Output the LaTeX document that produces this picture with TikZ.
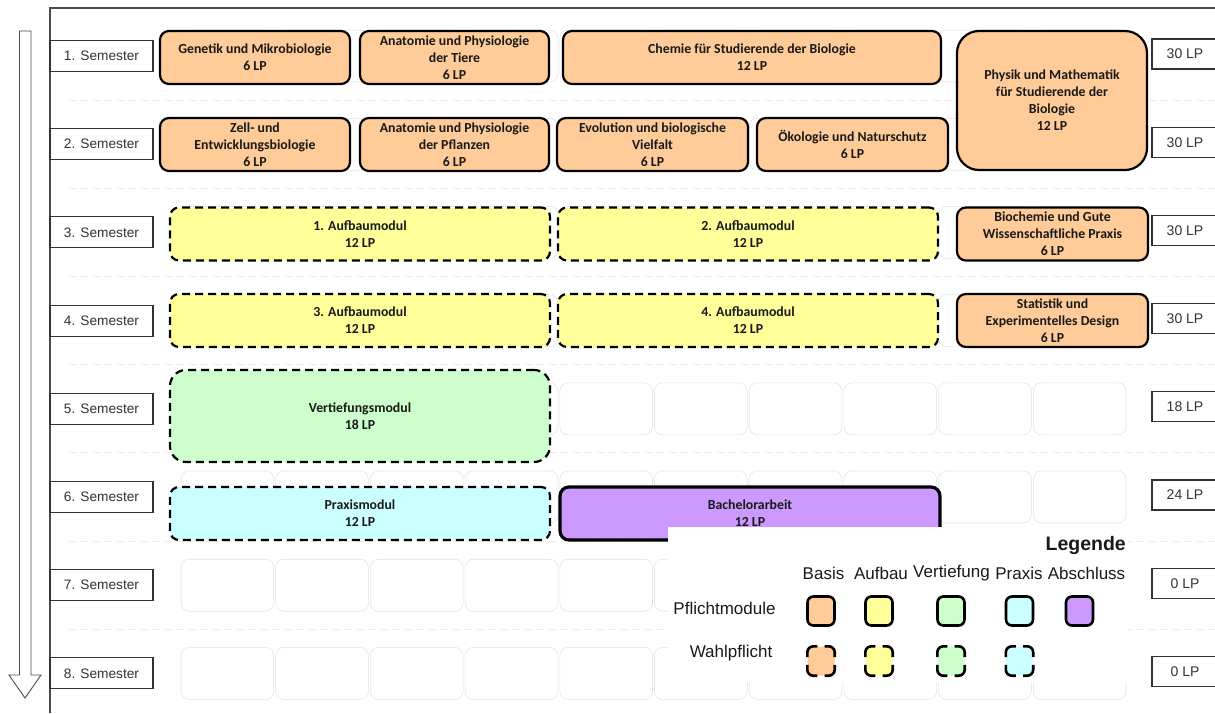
\documentclass[tikz,border=0pt]{standalone}
\usepackage{fontspec}
\usetikzlibrary{calc}
\setmainfont{Liberation Sans}
\newfontfamily\modfont{Carlito}
\definecolor{basis}{HTML}{FFCC99}
\definecolor{aufbau}{HTML}{FFFF99}
\definecolor{vertief}{HTML}{CCFFCC}
\definecolor{praxis}{HTML}{CCFFFF}
\definecolor{abschl}{HTML}{CC99FF}
\definecolor{framecol}{HTML}{4A4A4A}
\definecolor{sepcol}{HTML}{ECECDC}
\definecolor{cellcol}{HTML}{E4E4E4}
\definecolor{labtext}{HTML}{333333}
\tikzset{
  modbox/.style={draw=black, line width=2.2pt, rounded corners=9pt, inner sep=0pt, align=center,
    font=\modfont\bfseries\fontsize{13.8}{17}\selectfont, text=black!90},
  wahl/.style={modbox, dash pattern=on 8pt off 5pt},
  pfl/.style={modbox},
  sembox/.style={draw=labtext, line width=1.1pt, fill=white, inner sep=0pt, minimum width=103pt, minimum height=31pt,
    font=\fontsize{13.7}{15}\selectfont, text=labtext},
  lpbox/.style={draw=labtext, line width=1.1pt, fill=white, inner sep=0pt, minimum width=66pt, minimum height=30pt,
    font=\fontsize{14}{15}\selectfont, text=labtext},
  legtext/.style={font=\fontsize{17}{18}\selectfont, text=black!90, inner sep=0pt},
  legsq/.style={draw=black, line width=2.6pt, rounded corners=6pt, minimum width=27pt, minimum height=29pt, inner sep=0pt},
  legsqd/.style={rounded corners=6pt, minimum width=27pt, minimum height=29pt, inner sep=0pt},
  legcorner/.style={draw=black, line width=2.6pt, rounded corners=6pt},
}
\newcommand\wahlcorners[1]{%
  \draw[legcorner] ($(#1.north west)!0.37!(#1.south west)$) |- ($(#1.north west)!0.37!(#1.north east)$);
  \draw[legcorner] ($(#1.north east)!0.37!(#1.north west)$) -| ($(#1.north east)!0.37!(#1.south east)$);
  \draw[legcorner] ($(#1.south east)!0.37!(#1.north east)$) |- ($(#1.south east)!0.37!(#1.south west)$);
  \draw[legcorner] ($(#1.south west)!0.37!(#1.south east)$) -| ($(#1.south west)!0.37!(#1.north west)$);
}
\begin{document}
\begin{tikzpicture}[x=1pt,y=-1pt]
\useasboundingbox (0,0) rectangle (1215,713);
\clip (0,0) rectangle (1215,713);
% background cells
\foreach \r in {1,...,8}{
  \foreach \c in {0,...,9}{
    \draw[cellcol, line width=0.6pt, rounded corners=8pt]
      ({180+94.7*\c+1},{56+88.2*(\r-1)-26}) rectangle ({180+94.7*(\c+1)-1},{56+88.2*(\r-1)+26});
  }
}
% separators
\foreach \r in {1,...,7}{
  \draw[sepcol, line width=1pt, dash pattern=on 7pt off 5pt] (69,{56+88.2*(\r-1)+44.1}) -- (1215,{56+88.2*(\r-1)+44.1});
}
% frame
\draw[framecol, line width=1.3pt] (50,713) -- (50,8) -- (1216,8);
% arrow
\draw[framecol, line width=0.9pt, fill=white] (19.5,31) -- (31,31) -- (31,675) -- (41,675) -- (25,698) -- (9,675) -- (19.5,675) -- cycle;
% semester labels and LP
\foreach \r/\lp in {1/30,2/30,3/30,4/30,5/18,6/24,7/0,8/0}{
  \node[sembox] (sem\r) at (101.5,{56+88.2*(\r-1)}) {\r. Semester};
  \node[lpbox] (lp\r) at (1185,{56+88.2*(\r-1)-2}) {\lp\ LP};
}
% modules
\node[pfl, fill=basis, minimum width=190pt, minimum height=53pt] (gen) at (255,57.5) {Genetik und Mikrobiologie\\6 LP};
\node[pfl, fill=basis, minimum width=189pt, minimum height=53pt] (anat) at (454.5,57.5) {Anatomie und Physiologie\\der Tiere\\6 LP};
\node[pfl, fill=basis, minimum width=378pt, minimum height=53pt] (chem) at (752,57.5) {Chemie für Studierende der Biologie\\12 LP};
\node[pfl, fill=basis, minimum width=190pt, minimum height=139pt, rounded corners=22pt] (phys) at (1052,100.5) {Physik und Mathematik\\für Studierende der\\Biologie\\12 LP};
\node[pfl, fill=basis, minimum width=190pt, minimum height=53pt] (zell) at (255,144.5) {Zell- und\\Entwicklungsbiologie\\6 LP};
\node[pfl, fill=basis, minimum width=189pt, minimum height=53pt] (anpf) at (454.5,144.5) {Anatomie und Physiologie\\der Pflanzen\\6 LP};
\node[pfl, fill=basis, minimum width=191pt, minimum height=53pt] (evol) at (652.5,144.5) {Evolution und biologische\\Vielfalt\\6 LP};
\node[pfl, fill=basis, minimum width=191pt, minimum height=53pt] (oeko) at (852.5,144.5) {Ökologie und Naturschutz\\6 LP};
\node[wahl, fill=aufbau, minimum width=380pt, minimum height=53pt] (auf1) at (360,234) {1. Aufbaumodul\\12 LP};
\node[wahl, fill=aufbau, minimum width=380pt, minimum height=53pt] (auf2) at (748,234) {2. Aufbaumodul\\12 LP};
\node[pfl, fill=basis, minimum width=191pt, minimum height=53pt] (bioch) at (1052.5,234) {Biochemie und Gute\\Wissenschaftliche Praxis\\6 LP};
\node[wahl, fill=aufbau, minimum width=380pt, minimum height=53pt] (auf3) at (360,320.5) {3. Aufbaumodul\\12 LP};
\node[wahl, fill=aufbau, minimum width=380pt, minimum height=53pt] (auf4) at (748,320.5) {4. Aufbaumodul\\12 LP};
\node[pfl, fill=basis, minimum width=191pt, minimum height=53pt] (stat) at (1052.5,320.5) {Statistik und\\Experimentelles Design\\6 LP};
\node[wahl, fill=vertief, minimum width=380pt, minimum height=92pt, rounded corners=16pt] (vert) at (360,416) {Vertiefungsmodul\\18 LP};
\node[wahl, fill=praxis, minimum width=380pt, minimum height=53pt] (prax) at (360,513.5) {Praxismodul\\12 LP};
\node[pfl, fill=abschl, minimum width=380pt, minimum height=53pt, line width=3.2pt] (bach) at (750,513.5) {Bachelorarbeit\\12 LP};
% legend
\fill[white] (668,527) rectangle (1128,682);
\node[font=\bfseries\fontsize{19.5}{21}\selectfont, anchor=east, inner sep=0pt, text=black!90] (leg) at (1126,545) {Legende};
\node[legtext] (hbas) at (823.5,573) {Basis};
\node[legtext] (hauf) at (881,573) {Aufbau};
\node[legtext] (hver) at (951.5,573) {Vertiefung};
\node[legtext] (hpra) at (1019,573) {Praxis};
\node[legtext] (habs) at (1086.5,573) {Abschluss};
\node[legtext] (lpfl) at (724.5,608) {Pflichtmodule};
\node[legtext] (lwah) at (731,653) {Wahlpflicht};
\node[legsq, fill=basis] (pb) at (821,611) {};
\node[legsq, fill=aufbau] (pa) at (879,611) {};
\node[legsq, fill=vertief] (pv) at (951,611) {};
\node[legsq, fill=praxis] (pp) at (1019.5,611) {};
\node[legsq, fill=abschl] (pz) at (1079.5,611) {};
\node[legsqd, fill=basis] (wb) at (821,661) {};
\node[legsqd, fill=aufbau] (wa) at (879,661) {};
\node[legsqd, fill=vertief] (wv) at (951,661) {};
\node[legsqd, fill=praxis] (wp) at (1019.5,661) {};
\wahlcorners{wb}
\wahlcorners{wa}
\wahlcorners{wv}
\wahlcorners{wp}
\end{tikzpicture}
\end{document}
